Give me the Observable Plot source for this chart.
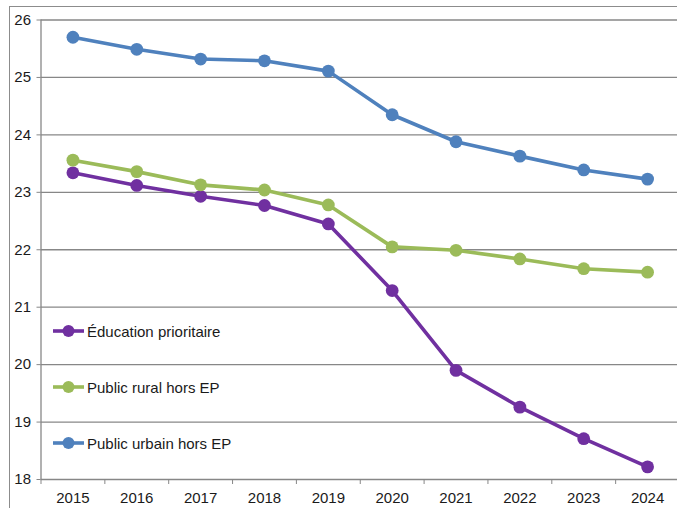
<!DOCTYPE html>
<html><head><meta charset="utf-8">
<script src="https://cdn.jsdelivr.net/npm/d3@7"></script>
<script src="https://cdn.jsdelivr.net/npm/@observablehq/plot@0.6"></script>
<style>
body{margin:0;background:#fff;}
#wrap{position:relative;width:677px;height:508px;overflow:hidden;font-family:"Liberation Sans",Arial,sans-serif;}
#border{position:absolute;left:9px;top:6px;width:720px;height:620px;border:1px solid #8c8c8c;box-sizing:border-box;}
#chart{position:absolute;left:0;top:0;}
#legend{position:absolute;left:53px;top:318px;}
.item{display:flex;align-items:center;height:26px;margin-bottom:30px;font-size:15px;color:#1a1a1a;white-space:nowrap;}
.item svg{margin-right:3px;}
</style></head>
<body>
<div id="wrap"><div id="border"></div><div id="chart"></div><div id="legend"></div></div>
<script>
const years = [2015, 2016, 2017, 2018, 2019, 2020, 2021, 2022, 2023, 2024];
const education = [23.34, 23.12, 22.93, 22.77, 22.45, 21.29, 19.90, 19.26, 18.71, 18.22];
const rural = [23.56, 23.36, 23.13, 23.04, 22.78, 22.05, 21.99, 21.84, 21.67, 21.61];
const urbain = [25.70, 25.49, 25.32, 25.29, 25.11, 24.35, 23.88, 23.63, 23.39, 23.23];
const seriesNames = ["Éducation prioritaire", "Public rural hors EP", "Public urbain hors EP"];
const colors = ["#7030A0", "#9BBB59", "#4F81BD"];
const yTicks = [18, 19, 20, 21, 22, 23, 24, 25, 26];

const seriesValues = [education, rural, urbain];
const data = [];
seriesValues.forEach((vals, i) => years.forEach((yr, j) => data.push({year: yr, value: vals[j], series: seriesNames[i]})));
const bounds = [...years.map(y => y - 0.5), years[years.length - 1] + 0.5];
const grid = "#878787";

const chart = Plot.plot({
  width: 677, height: 508,
  marginLeft: 40.5, marginRight: 0, marginTop: 19.5, marginBottom: 29,
  x: {domain: [bounds[0], bounds[bounds.length - 1]], range: [40.5, 679], label: null},
  y: {domain: [yTicks[0], yTicks[yTicks.length - 1]], range: [479, 19.5], label: null},
  color: {domain: seriesNames, range: colors},
  style: {fontFamily: '"Liberation Sans", Arial, sans-serif', fontSize: "15px", color: "#1a1a1a", background: "transparent", overflow: "visible"},
  marks: [
    Plot.ruleY(yTicks, {stroke: grid, strokeWidth: 1.3}),
    Plot.ruleX([bounds[0]], {y1: yTicks[0], y2: yTicks[yTicks.length - 1], stroke: grid, strokeWidth: 1.3}),
    Plot.axisY({ticks: yTicks, tickSize: 4, tickPadding: 6, stroke: grid, tickFormat: d => String(d), fill: "#1a1a1a", label: null}),
    Plot.axisX({ticks: bounds, tickSize: 5, stroke: grid, tickFormat: () => "", label: null}),
    Plot.axisX({ticks: years, tickSize: 0, tickPadding: 13, tickFormat: d => String(d), fill: "#1a1a1a", label: null}),
    Plot.line(data, {x: "year", y: "value", z: "series", stroke: "series", strokeWidth: 3.6}),
    Plot.dot(data, {x: "year", y: "value", fill: "series", r: 6.4})
  ]
});
document.getElementById("chart").appendChild(chart);

const legend = document.getElementById("legend");
seriesNames.forEach((name, i) => {
  const it = document.createElement("div");
  it.className = "item";
  it.innerHTML = `<svg width="31" height="14"><line x1="0" y1="7" x2="31" y2="7" stroke="${colors[i]}" stroke-width="3.6"/><circle cx="15.5" cy="7" r="6" fill="${colors[i]}"/></svg><span>${name}</span>`;
  legend.appendChild(it);
});
</script>
</body></html>
